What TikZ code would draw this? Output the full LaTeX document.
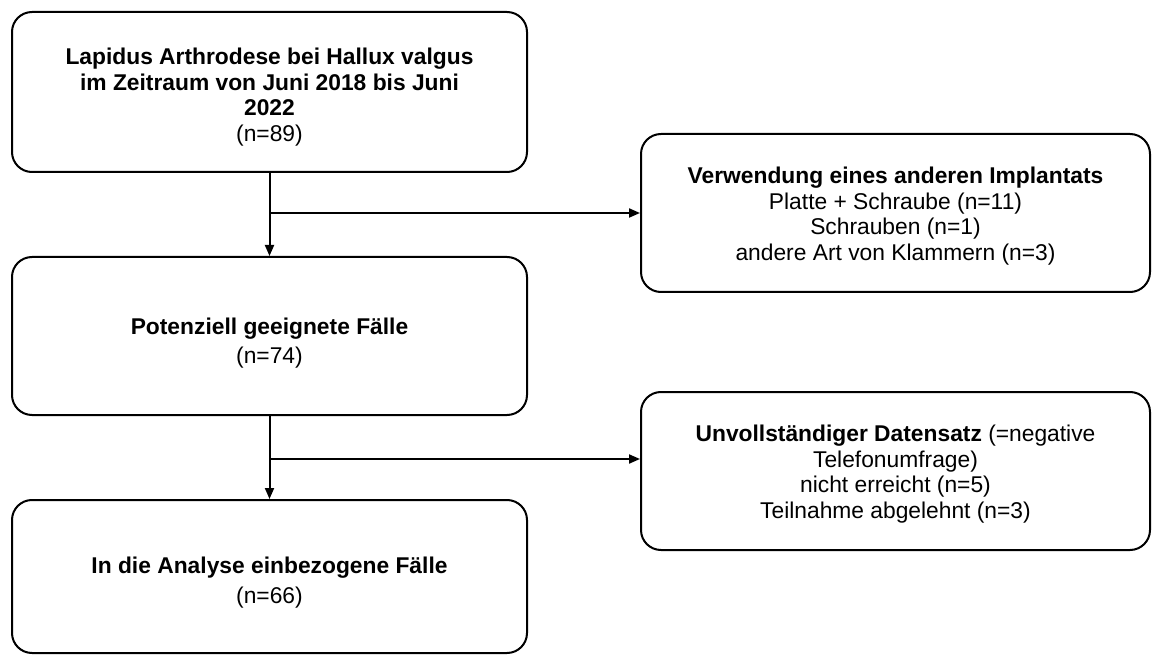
\documentclass[tikz,border=0pt]{standalone}
\usepackage{fontspec}
\setmainfont{Liberation Sans}
\usetikzlibrary{arrows.meta}
\newcommand{\topgap}[1]{\rule{0pt}{#1}}

\begin{document}
\begin{tikzpicture}[x=1pt,y=1pt,line width=2pt]
\tikzstyle{every node}=[font=\fontsize{22.8}{25.5}\selectfont]
\tikzstyle{box}=[draw,rounded corners=20pt,align=center,minimum width=515pt]
\tikzstyle{sidebox}=[box,minimum width=509pt,minimum height=158pt]
\tikzstyle{flow}=[-{Triangle[length=11pt,width=9pt]}]
\useasboundingbox (0,0) rectangle (1152,-655);

\node[box,minimum height=160pt] (start) at (269.5,-92) {\topgap{27pt}\textbf{Lapidus Arthrodese bei Hallux valgus}\\\textbf{im Zeitraum von Juni 2018 bis Juni}\\\textbf{2022}\\(n=89)};
\node[box,minimum height=158pt] (eligible) at (269.5,-336) {\topgap{31pt}\textbf{Potenziell geeignete Fälle}\\[4pt](n=74)};
\node[box,minimum height=153pt] (included) at (269.5,-576.5) {\topgap{29pt}\textbf{In die Analyse einbezogene Fälle}\\[4pt](n=66)};
\node[sidebox] (implant) at (895.5,-213) {\topgap{23pt}\textbf{Verwendung eines anderen Implantats}\\Platte + Schraube (n=11)\\Schrauben (n=1)\\andere Art von Klammern (n=3)};
\node[sidebox] (incomplete) at (895.5,-471) {\topgap{23pt}\textbf{Unvollständiger Datensatz} (=negative\\Telefonumfrage)\\nicht erreicht (n=5)\\Teilnahme abgelehnt (n=3)};

\coordinate (split1) at (270,-213);
\coordinate (split2) at (270,-459);
\draw[flow] (start.south) -- (eligible.north);
\draw[flow] (split1) -- (implant.west |- split1);
\draw[flow] (eligible.south) -- (included.north);
\draw[flow] (split2) -- (incomplete.west |- split2);
\end{tikzpicture}
\end{document}
